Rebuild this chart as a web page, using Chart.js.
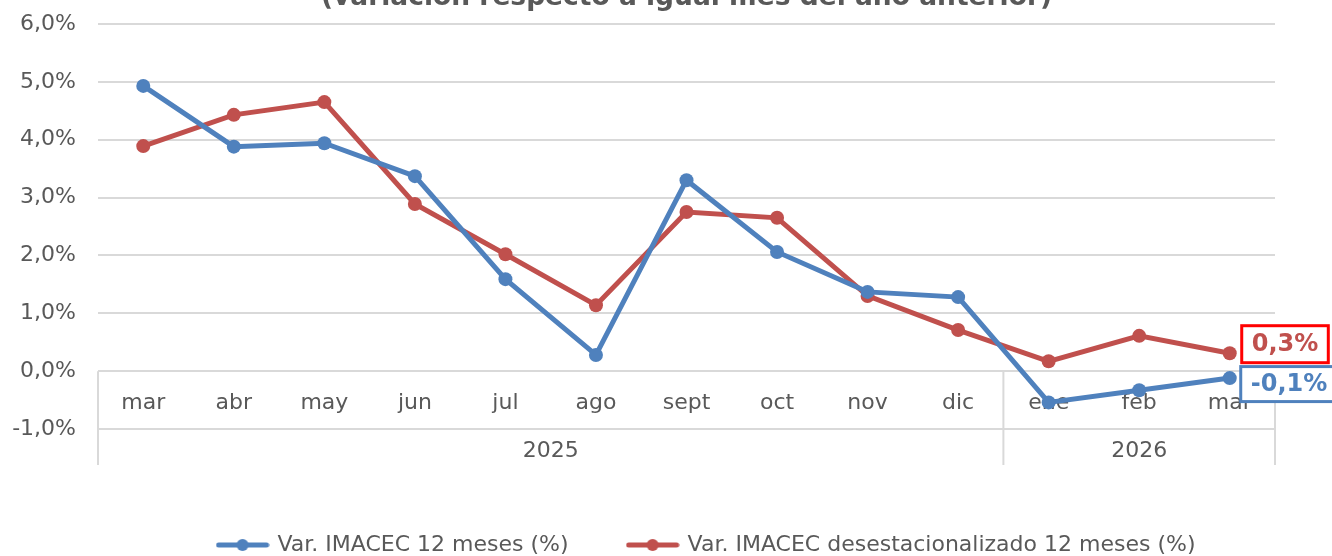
<!DOCTYPE html>
<html>
<head>
<meta charset="utf-8">
<script src="https://cdn.jsdelivr.net/npm/chart.js@4.4.1/dist/chart.umd.min.js"></script>
<style>
  html, body { margin: 0; padding: 0; background: #fff; overflow: hidden; }
</style>
</head>
<body>
<canvas id="chart" width="1332" height="556"></canvas>
<script>
// data
var months = ['mar', 'abr', 'may', 'jun', 'jul', 'ago', 'sept', 'oct', 'nov', 'dic', 'ene', 'feb', 'mar'];
var yearLabels = ['2025', '2026'];
var yearSpans = [10, 3];   // how many months fall in each year
var imacec = [4.93, 3.88, 3.94, 3.37, 1.59, 0.28, 3.30, 2.06, 1.37, 1.28, -0.54, -0.33, -0.12];
var imacecDesest = [3.89, 4.43, 4.65, 2.89, 2.02, 1.14, 2.75, 2.65, 1.30, 0.71, 0.17, 0.61, 0.31];
var seriesNames = ['Var. IMACEC 12 meses (%)', 'Var. IMACEC desestacionalizado 12 meses (%)'];
var titleText = '(variación respecto a igual mes del año anterior)';

var gray = '#595959';
var blue = '#4F81BD';
var red = '#C0504D';
var font = 'DejaVu Sans';

function pct(v) {
    return v.toFixed(1).replace('.', ',') + '%';
}

// legend marker: line with a dot in the middle, like the excel legend
function legendMark(color) {
    var c = document.createElement('canvas');
    c.width = 54;
    c.height = 14;
    var g = c.getContext('2d');
    g.strokeStyle = color;
    g.lineWidth = 5;
    g.lineCap = 'round';
    g.beginPath();
    g.moveTo(3, 7);
    g.lineTo(51, 7);
    g.stroke();
    g.fillStyle = color;
    g.beginPath();
    g.arc(27, 7, 6, 0, Math.PI * 2);
    g.fill();
    return c;
}
var marks = [legendMark(blue), legendMark(red)];

// title is cut off at the top of the picture
var titlePlugin = {
    id: 'topTitle',
    afterDraw: function(chart) {
        var ctx = chart.ctx, a = chart.chartArea;
        ctx.save();
        ctx.font = 'bold 26.5px ' + font;
        ctx.fillStyle = gray;
        ctx.textAlign = 'center';
        ctx.textBaseline = 'alphabetic';
        ctx.fillText(titleText, (a.left + a.right) / 2, a.top - 19);
        ctx.restore();
    }
};

// year row under the month labels
var yearsPlugin = {
    id: 'years',
    beforeDatasetsDraw: function(chart) {
        var ctx = chart.ctx, x = chart.scales.x, y = chart.scales.y, a = chart.chartArea;
        var top = y.getPixelForValue(0), bottom = a.bottom + 36;
        var edges = [a.left], idx = 0;
        yearSpans.forEach(function(n) {
            idx += n;
            if (idx < months.length) {
                edges.push((x.getPixelForValue(idx - 1) + x.getPixelForValue(idx)) / 2);
            } else {
                edges.push(a.right);
            }
        });
        ctx.save();
        ctx.strokeStyle = '#D9D9D9';
        ctx.lineWidth = 2;
        edges.forEach(function(e) {
            ctx.beginPath();
            ctx.moveTo(e, top);
            ctx.lineTo(e, bottom);
            ctx.stroke();
        });
        ctx.font = '22px ' + font;
        ctx.fillStyle = gray;
        ctx.textAlign = 'center';
        ctx.textBaseline = 'middle';
        yearLabels.forEach(function(t, k) {
            ctx.fillText(t, (edges[k] + edges[k + 1]) / 2, a.bottom + 22);
        });
        ctx.restore();
    }
};

// boxed value labels on the last point of each series
var endLabelStyles = [
    { border: blue, color: blue, dx: 11, dy: 6, h: 35 },
    { border: '#FF0000', color: red, dx: 12, dy: -9, h: 37 }
];
var endLabelsPlugin = {
    id: 'endLabels',
    afterDatasetsDraw: function(chart) {
        var ctx = chart.ctx;
        chart.data.datasets.forEach(function(ds, i) {
            var last = ds.data.length - 1;
            var pt = chart.getDatasetMeta(i).data[last];
            var st = endLabelStyles[i];
            var text = pct(ds.data[last]);
            ctx.save();
            ctx.font = 'bold 24px ' + font;
            var w = ctx.measureText(text).width + 20;
            var left = pt.x + st.dx, top = pt.y + st.dy - st.h / 2;
            ctx.fillStyle = '#fff';
            ctx.fillRect(left, top, w, st.h);
            ctx.strokeStyle = st.border;
            ctx.lineWidth = 3;
            ctx.strokeRect(left, top, w, st.h);
            ctx.fillStyle = st.color;
            ctx.textBaseline = 'middle';
            ctx.fillText(text, left + 10, pt.y + st.dy + 1);
            ctx.restore();
        });
    }
};

var ctx = document.getElementById('chart').getContext('2d');
var myChart = new Chart(ctx, {
    type: 'line',
    data: {
        labels: months,
        datasets: [{
            label: seriesNames[0],
            data: imacec,
            borderColor: blue,
            backgroundColor: blue,
            borderWidth: 5,
            pointRadius: 7,
            pointBorderWidth: 0,
            pointBackgroundColor: blue,
            tension: 0
        }, {
            label: seriesNames[1],
            data: imacecDesest,
            borderColor: red,
            backgroundColor: red,
            borderWidth: 5,
            pointRadius: 7,
            pointBorderWidth: 0,
            pointBackgroundColor: red,
            tension: 0
        }]
    },
    options: {
        responsive: false,
        animation: false,
        devicePixelRatio: 1,
        layout: {
            // negative right padding widens the legend box so it centres like the original
            padding: { left: 8, right: -74, top: 24, bottom: -10 }
        },
        scales: {
            x: {
                position: { y: 0 },
                offset: true,
                grid: { display: false, drawTicks: false },
                border: { display: false },
                ticks: {
                    color: gray,
                    font: { family: font, size: 22 },
                    padding: 19,
                    maxRotation: 0,
                    autoSkip: false
                }
            },
            x2: {
                type: 'category',
                position: 'bottom',
                grid: { display: false },
                border: { display: false },
                ticks: { display: false },
                afterFit: function(s) { s.height = 45; }
            },
            y: {
                min: -1,
                max: 6,
                ticks: {
                    stepSize: 1,
                    color: gray,
                    font: { family: font, size: 22 },
                    padding: 0,
                    callback: function(v) { return pct(v); }
                },
                grid: { color: '#D9D9D9', lineWidth: 2, drawTicks: true, tickLength: 22, tickColor: 'rgba(0,0,0,0)' },
                border: { display: false },
                afterFit: function(s) { s.width = 90; }
            },
            y2: {
                position: 'right',
                grid: { display: false },
                border: { display: false },
                ticks: { display: false },
                afterFit: function(s) { s.width = 131; }
            }
        },
        plugins: {
            legend: {
                position: 'bottom',
                labels: {
                    usePointStyle: true,
                    pointStyleWidth: 48,
                    padding: 60,
                    color: gray,
                    font: { family: font, size: 22 },
                    generateLabels: function(chart) {
                        var items = Chart.defaults.plugins.legend.labels.generateLabels(chart);
                        items.forEach(function(it) { it.pointStyle = marks[it.datasetIndex]; });
                        return items;
                    }
                }
            },
            tooltip: { enabled: false }
        }
    },
    plugins: [titlePlugin, yearsPlugin, endLabelsPlugin]
});
</script>
</body>
</html>
